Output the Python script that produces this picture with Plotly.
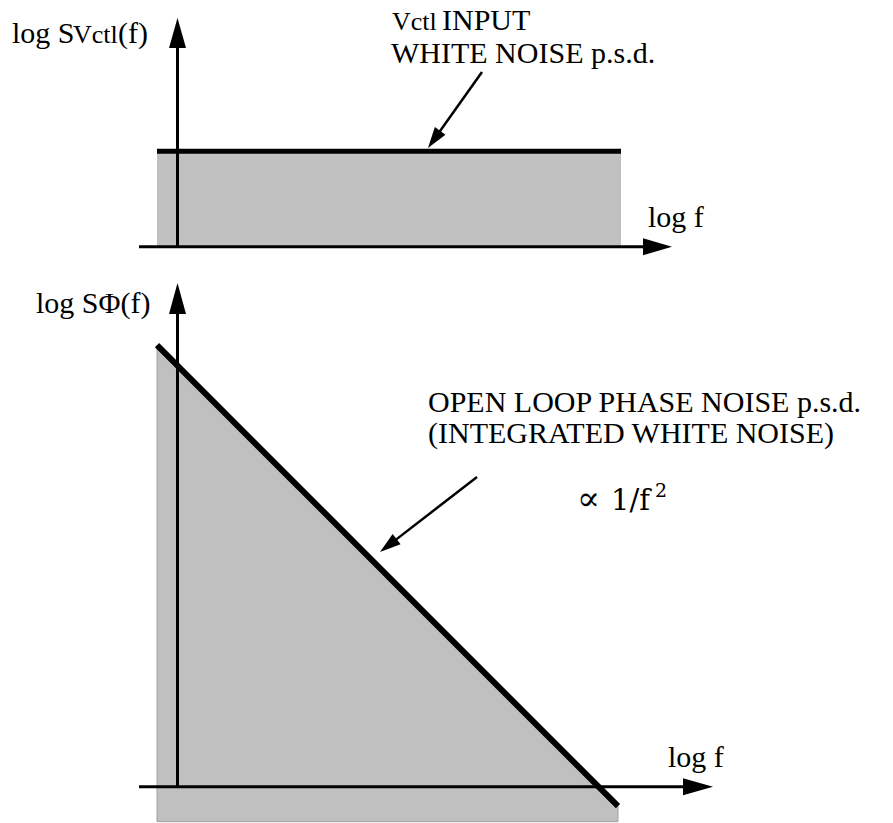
import plotly.graph_objects as go

# ---- data (log-log sketch units) ----
# VCO control-voltage input: white noise, flat p.s.d.
log_f_white = [-0.205, 4.435]
log_Sv_white = [0.955, 0.955]

# Open-loop phase noise: integrated white noise, slope -2 (1/f^2)
log_f_phase = [-0.205, 4.405]
log_Sphi = [8.83, -0.39]
log_Sphi_floor = -0.70

# ---- page / panel geometry ----
W, H = 893, 823
SPLIT = 265            # pixel row separating the two panels
X_ORIGIN, X_SCALE = 177.5, 100.0     # log f = 0 column, px per decade
Y1_ORIGIN, Y1_SCALE = 246.7, 100.0   # top panel: log Sv = 0 row, px per decade
Y2_ORIGIN, Y2_SCALE = 786.7, 50.0    # bottom panel: log Sphi = 0 row, px per decade

XR = [(0 - X_ORIGIN) / X_SCALE, (W - X_ORIGIN) / X_SCALE]
YR1 = [(Y1_ORIGIN - SPLIT) / Y1_SCALE, Y1_ORIGIN / Y1_SCALE]
YR2 = [(Y2_ORIGIN - H) / Y2_SCALE, (Y2_ORIGIN - SPLIT) / Y2_SCALE]
D = 1 - SPLIT / H

SERIF = "Liberation Serif"
MATH = "DejaVu Serif"


def px(x):
    return x / W


def py(y):
    return 1 - y / H


fig = go.Figure()

# gray area under the white-noise level
fig.add_trace(go.Scatter(
    x=[log_f_white[0], log_f_white[0], log_f_white[1], log_f_white[1]],
    y=[0, log_Sv_white[0], log_Sv_white[1], 0],
    fill="toself", fillcolor="#c0c0c0", mode="lines",
    line=dict(width=0), xaxis="x", yaxis="y", hoverinfo="skip"))
fig.add_trace(go.Scatter(
    x=log_f_white, y=log_Sv_white, mode="lines",
    line=dict(color="black", width=5), xaxis="x", yaxis="y"))

# gray area under the 1/f^2 phase-noise line
fig.add_trace(go.Scatter(
    x=[log_f_phase[0], log_f_phase[0], log_f_phase[1], log_f_phase[1], log_f_phase[0]],
    y=[log_Sphi_floor, log_Sphi[0], log_Sphi[1], log_Sphi_floor, log_Sphi_floor],
    fill="toself", fillcolor="#c0c0c0", mode="lines",
    line=dict(color="#a0a0a0", width=1), xaxis="x2", yaxis="y2", hoverinfo="skip"))
fig.add_trace(go.Scatter(
    x=log_f_phase, y=log_Sphi, mode="lines",
    line=dict(color="black", width=6), xaxis="x2", yaxis="y2"))

shapes = []


def arrow(x0, y0, x1, y1, width, head_len, head_w):
    """Line from (x0,y0) to a filled triangular head at (x1,y1), in pixels."""
    dx, dy = x1 - x0, y1 - y0
    n = (dx * dx + dy * dy) ** 0.5
    ux, uy = dx / n, dy / n
    bx, by = x1 - ux * head_len, y1 - uy * head_len
    shapes.append(dict(type="line", xref="paper", yref="paper",
                       x0=px(x0), y0=py(y0), x1=px(bx + ux * 2), y1=py(by + uy * 2),
                       line=dict(color="black", width=width)))
    nx, ny = -uy, ux
    p1 = (bx + nx * head_w / 2, by + ny * head_w / 2)
    p2 = (bx - nx * head_w / 2, by - ny * head_w / 2)
    path = "M{},{} L{},{} L{},{} Z".format(px(x1), py(y1), px(p1[0]), py(p1[1]),
                                           px(p2[0]), py(p2[1]))
    shapes.append(dict(type="path", xref="paper", yref="paper", path=path,
                       fillcolor="black", line=dict(color="black", width=0)))


# axes of the top panel
arrow(X_ORIGIN, Y1_ORIGIN, X_ORIGIN, 18, 3, 30, 17)
arrow(139, Y1_ORIGIN, 672, Y1_ORIGIN, 3, 29, 17)
# axes of the bottom panel
arrow(X_ORIGIN, Y2_ORIGIN, X_ORIGIN, 283, 3, 31, 17)
arrow(139, Y2_ORIGIN, 713, Y2_ORIGIN, 3, 30, 17)
# pointer arrows
arrow(482, 72, 428, 148, 2.5, 21, 13)
arrow(477, 477, 380, 552, 2.5, 21, 13)

annotations = []


def label(text, x, baseline, size=30, family=SERIF, k=0.3375):
    """Left-aligned text whose baseline sits on the given pixel row."""
    annotations.append(dict(text=text, x=px(x), y=py(baseline - k * size),
                            xref="paper", yref="paper",
                            xanchor="left", yanchor="middle", showarrow=False,
                            font=dict(family=family, size=size, color="black")))


# top panel
label("log S", 10, 43)
label("Vctl", 71, 43, size=26)
label("(f)", 116, 43)
label("Vctl", 390, 30, size=26)
label("INPUT", 440, 30)
label("WHITE NOISE p.s.d.", 389, 63)
label("log f", 646, 227)

# bottom panel
label("log SΦ(f)", 34, 313)
label("OPEN LOOP PHASE NOISE p.s.d.", 426, 412)
label("(INTEGRATED WHITE NOISE)", 426, 443)
label("∝", 575, 510, size=34, family=MATH, k=0.346)
label("1/f", 609, 510, size=29, family=MATH, k=0.346)
label("2", 653, 497, size=19, family=MATH, k=0.346)
label("log f", 666, 767)

fig.update_layout(
    width=W, height=H, autosize=False,
    margin=dict(l=0, r=0, t=0, b=0, pad=0),
    paper_bgcolor="white", plot_bgcolor="white",
    showlegend=False,
    xaxis=dict(domain=[0, 1], range=XR, visible=False, anchor="y"),
    yaxis=dict(domain=[D, 1], range=YR1, visible=False, anchor="x"),
    xaxis2=dict(domain=[0, 1], range=XR, visible=False, anchor="y2"),
    yaxis2=dict(domain=[0, D], range=YR2, visible=False, anchor="x2"),
    shapes=shapes,
    annotations=annotations,
)

fig.write_html("out.html", post_script="document.body.style.margin='0';")
